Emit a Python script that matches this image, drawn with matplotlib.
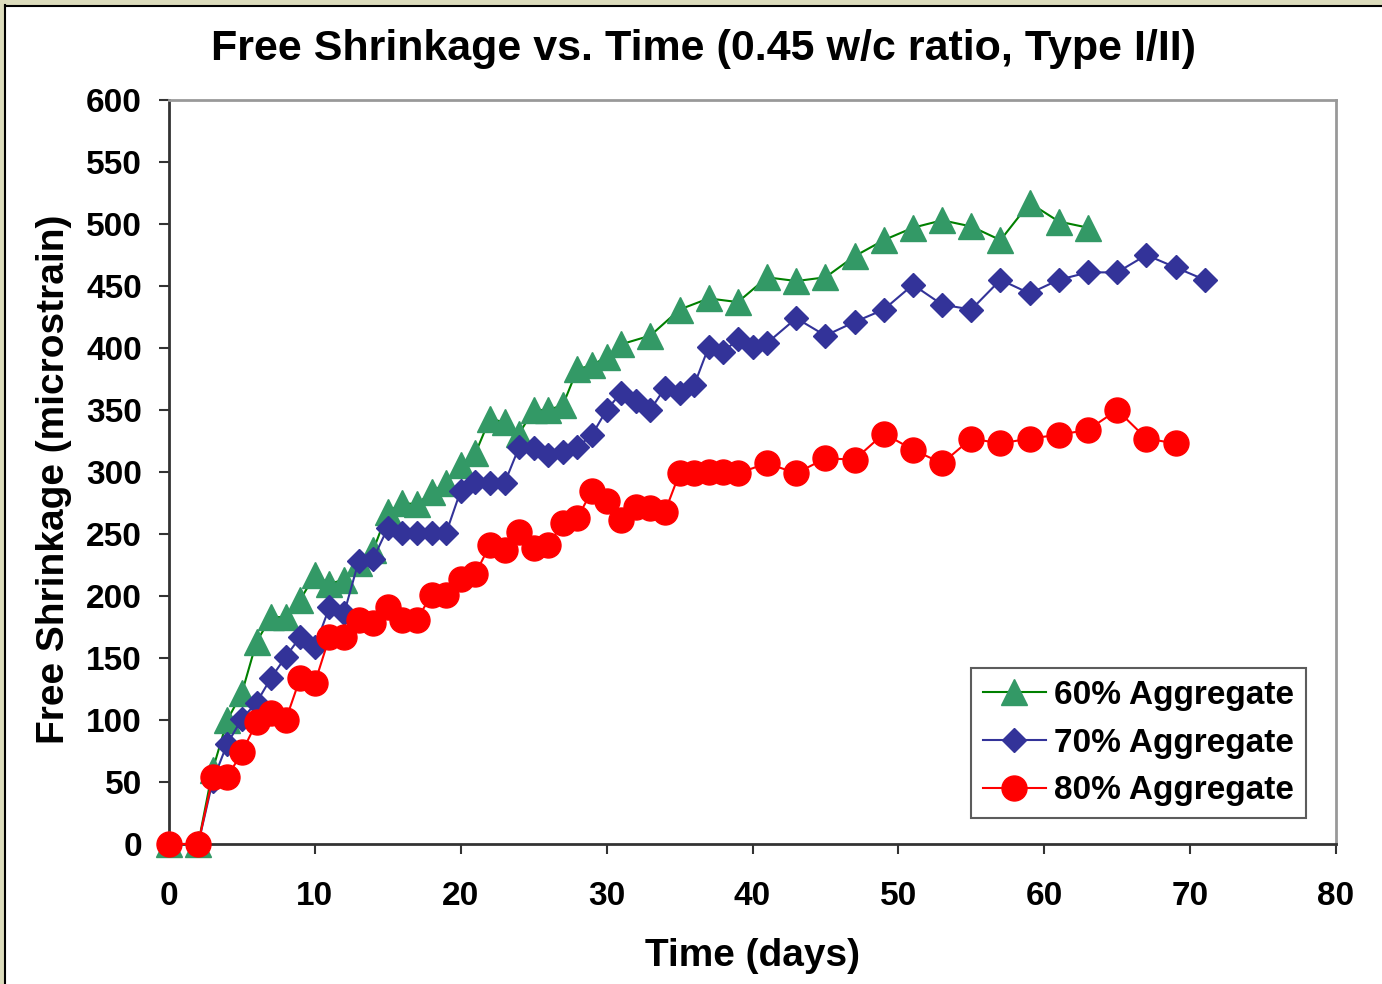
import matplotlib
matplotlib.use('Agg')
import matplotlib.pyplot as plt
from matplotlib.lines import Line2D
from matplotlib.patches import Rectangle

plt.rcParams['font.family'] = ['Liberation Sans', 'DejaVu Sans']
plt.rcParams['font.weight'] = 'bold'

# 60% Aggregate
days_60 = [0, 2, 3, 4, 5, 6, 7, 8, 9, 10, 11, 12, 13, 14, 15, 16, 17, 18, 19, 20,
           21, 22, 23, 24, 25, 26, 27, 28, 29, 30, 31, 33, 35, 37, 39, 41, 43, 45,
           47, 49, 51, 53, 55, 57, 59, 61, 63]
shr_60 = [0, 0, 60, 100, 122, 163, 183, 183, 197, 217, 210, 213, 227, 237, 268, 275,
          274, 284, 291, 306, 315, 343, 340, 331, 350, 350, 354, 383, 386, 393, 403,
          410, 431, 440, 437, 457, 454, 457, 474, 487, 497, 503, 498, 487, 517, 502, 497]

# 70% Aggregate
days_70 = [0, 2, 3, 4, 5, 6, 7, 8, 9, 10, 11, 12, 13, 14, 15, 16, 17, 18, 19, 20,
           21, 22, 23, 24, 25, 26, 27, 28, 29, 30, 31, 32, 33, 34, 35, 36, 37, 38,
           39, 40, 41, 43, 45, 47, 49, 51, 53, 55, 57, 59, 61, 63, 65, 67, 69, 71]
shr_70 = [0, 0, 51, 81, 101, 114, 134, 151, 167, 159, 191, 186, 228, 230, 255, 251,
          251, 251, 251, 285, 292, 291, 291, 320, 319, 314, 316, 320, 330, 350, 364,
          357, 350, 368, 364, 370, 401, 397, 407, 401, 404, 424, 410, 421, 431, 451,
          435, 431, 455, 444, 455, 461, 461, 475, 465, 455]

# 80% Aggregate
days_80 = [0, 2, 3, 4, 5, 6, 7, 8, 9, 10, 11, 12, 13, 14, 15, 16, 17, 18, 19, 20,
           21, 22, 23, 24, 25, 26, 27, 28, 29, 30, 31, 32, 33, 34, 35, 36, 37, 38,
           39, 41, 43, 45, 47, 49, 51, 53, 55, 57, 59, 61, 63, 65, 67, 69]
shr_80 = [0, 0, 54, 54, 74, 98, 106, 100, 134, 130, 167, 167, 181, 178, 191, 181,
          181, 201, 201, 214, 218, 241, 237, 252, 239, 241, 259, 263, 285, 277, 261,
          272, 271, 268, 299, 299, 300, 300, 299, 307, 299, 311, 310, 331, 318, 307,
          327, 323, 327, 330, 334, 350, 327, 323]

fig = plt.figure(figsize=(13.82, 9.84), dpi=100, facecolor='white')

# beige frame strips on top and left, with a black edge line
fig.patches.append(Rectangle((0, 1 - 5 / 984), 1, 5 / 984, transform=fig.transFigure,
                             facecolor='#dcdcbc', edgecolor='none', zorder=0))
fig.patches.append(Rectangle((0, 0), 5 / 1382, 1, transform=fig.transFigure,
                             facecolor='#dcdcbc', edgecolor='none', zorder=0))
fig.lines.append(Line2D([5 / 1382, 1], [1 - 5.5 / 984, 1 - 5.5 / 984],
                        transform=fig.transFigure, color='black', lw=1.5))
fig.lines.append(Line2D([5.5 / 1382, 5.5 / 1382], [0, 1 - 5 / 984],
                        transform=fig.transFigure, color='black', lw=1.5))

ax = fig.add_axes([169 / 1382, 1 - 844 / 984, (1336 - 169) / 1382, (844 - 100) / 984])

ax.plot(days_60, shr_60, color='#008000', lw=1.5, marker='^', markersize=19,
        markerfacecolor='#339966', markeredgecolor='#339966', label='60% Aggregate',
        clip_on=False, zorder=3)
ax.plot(days_70, shr_70, color='#333399', lw=1.5, marker='D', markersize=12.5,
        markerfacecolor='#333399', markeredgecolor='#333399', label='70% Aggregate',
        clip_on=False, zorder=4)
ax.plot(days_80, shr_80, color='#ff0000', lw=1.5, marker='o', markersize=18,
        markerfacecolor='#ff0000', markeredgecolor='#ff0000', label='80% Aggregate',
        clip_on=False, zorder=5)

ax.set_xlim(0, 80)
ax.set_ylim(0, 600)
ax.set_xticks(range(0, 81, 10))
ax.set_yticks(range(0, 601, 50))
ax.tick_params(axis='both', direction='out', length=7.5, width=1.5, color='#333333',
               labelsize=24)
ax.tick_params(axis='x', pad=19)
ax.tick_params(axis='y', pad=12)
for lab in ax.get_xticklabels() + ax.get_yticklabels():
    lab.set_fontweight('bold')

for side in ['left', 'bottom']:
    ax.spines[side].set_color('#333333')
    ax.spines[side].set_linewidth(2)
for side in ['top', 'right']:
    ax.spines[side].set_color('#999999')
    ax.spines[side].set_linewidth(2)

fig.text(704 / 1382, 1 - 60 / 984, 'Free Shrinkage vs. Time (0.45 w/c ratio, Type I/II)',
         fontsize=31, fontweight='bold', ha='center', va='baseline')
ax.set_xlabel('Time (days)', fontsize=28, fontweight='bold')
ax.xaxis.set_label_coords(0.5, -0.126)
ax.set_ylabel('Free Shrinkage (microstrain)', fontsize=28, fontweight='bold')
ax.yaxis.set_label_coords(-0.083, 0.49)

leg = ax.legend(loc='lower right', bbox_to_anchor=(1306 / 1382, 1 - 818 / 984),
                bbox_transform=fig.transFigure, fontsize=24, frameon=True,
                fancybox=False, edgecolor='#333333', handlelength=1.9,
                handletextpad=0.25, borderpad=0.35, labelspacing=0.5,
                borderaxespad=0)
leg.get_frame().set_linewidth(1.5)
for t in leg.get_texts():
    t.set_fontweight('bold')

fig.savefig('out.png', dpi=100, facecolor=fig.get_facecolor())
